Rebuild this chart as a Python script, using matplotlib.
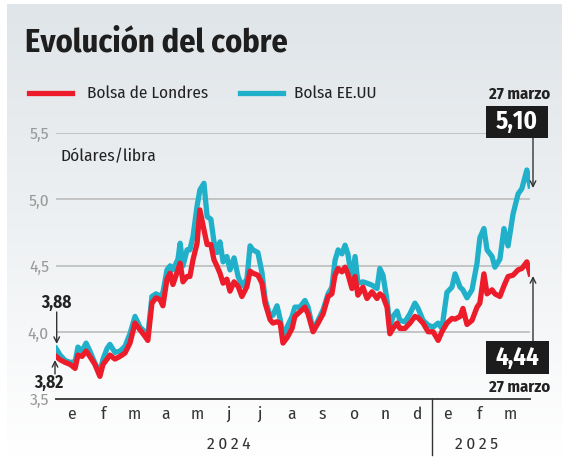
import numpy as np
import matplotlib
matplotlib.use('Agg')
import matplotlib.pyplot as plt
from matplotlib.patches import Rectangle
from matplotlib.colors import LinearSegmentedColormap

plt.rcParams['font.family'] = ['Fira Sans Condensed', 'DejaVu Sans']

# meses desde 1 de enero de 2024 (posicion de cada lectura)
mes = [0.00, 0.13, 0.29, 0.45, 0.61, 0.70, 0.83, 0.96, 1.08, 1.24,
       1.40, 1.50, 1.63, 1.72, 1.88, 2.04, 2.20, 2.36, 2.52, 2.68,
       2.81, 2.93, 3.06, 3.19, 3.32, 3.41, 3.54, 3.64, 3.73, 3.89,
       3.96, 4.05, 4.18, 4.27, 4.37, 4.50, 4.59, 4.72, 4.82, 4.94,
       5.04, 5.14, 5.23, 5.33, 5.45, 5.55, 5.68, 5.81, 5.93, 6.09,
       6.19, 6.28, 6.44, 6.57, 6.67, 6.83, 6.92, 7.05, 7.15, 7.24,
       7.37, 7.53, 7.62, 7.78, 7.94, 8.04, 8.20, 8.36, 8.52, 8.68,
       8.80, 8.90, 9.00, 9.12, 9.22, 9.31, 9.44, 9.54, 9.63, 9.79,
       9.92, 10.08, 10.24, 10.33, 10.43, 10.56, 10.65, 10.75, 10.88, 10.97,
       11.13, 11.29, 11.45, 11.55, 11.71, 11.87, 12.03, 12.19, 12.31, 12.47,
       12.63, 12.73, 12.89, 12.98, 13.11, 13.27, 13.43, 13.52, 13.65, 13.75,
       13.91, 14.00, 14.16, 14.29, 14.42, 14.58, 14.74, 14.86, 15.02, 15.12]

# Bolsa EE.UU (dolares/libra)
eeuu = [3.88, 3.83, 3.79, 3.775, 3.78, 3.89, 3.86, 3.92, 3.86, 3.77,
        3.70, 3.80, 3.88, 3.91, 3.85, 3.86, 3.895, 3.99, 4.12, 4.04,
        4.01, 3.98, 4.27, 4.29, 4.27, 4.30, 4.47, 4.50, 4.47, 4.55,
        4.67, 4.50, 4.62, 4.62, 4.72, 4.95, 5.07, 5.12, 4.87, 4.85,
        4.68, 4.60, 4.68, 4.53, 4.57, 4.47, 4.56, 4.42, 4.35, 4.40,
        4.65, 4.62, 4.60, 4.45, 4.25, 4.12, 4.13, 4.20, 4.10, 3.98,
        4.04, 4.12, 4.19, 4.19, 4.24, 4.19, 4.02, 4.09, 4.17, 4.29,
        4.34, 4.54, 4.62, 4.59, 4.655, 4.59, 4.39, 4.57, 4.37, 4.38,
        4.37, 4.355, 4.33, 4.48, 4.43, 4.24, 4.04, 4.12, 4.16, 4.09,
        4.08, 4.14, 4.22, 4.18, 4.09, 4.055, 4.04, 4.07, 4.03, 4.30,
        4.34, 4.44, 4.34, 4.32, 4.26, 4.32, 4.52, 4.71, 4.78, 4.62,
        4.57, 4.49, 4.55, 4.78, 4.65, 4.89, 5.04, 5.08, 5.22, 5.10]

# Bolsa de Londres (dolares/libra)
londres = [3.82, 3.795, 3.775, 3.76, 3.73, 3.83, 3.82, 3.86, 3.82, 3.76,
           3.67, 3.76, 3.80, 3.83, 3.80, 3.82, 3.845, 3.92, 4.07, 4.02,
           3.98, 3.94, 4.22, 4.26, 4.245, 4.20, 4.40, 4.445, 4.36, 4.47,
           4.52, 4.38, 4.42, 4.42, 4.545, 4.67, 4.92, 4.77, 4.66, 4.66,
           4.545, 4.495, 4.445, 4.37, 4.40, 4.31, 4.38, 4.345, 4.27, 4.345,
           4.46, 4.445, 4.43, 4.37, 4.22, 4.095, 4.07, 4.08, 4.07, 3.92,
           3.96, 4.03, 4.12, 4.155, 4.19, 4.14, 4.005, 4.07, 4.14, 4.27,
           4.29, 4.43, 4.48, 4.455, 4.49, 4.44, 4.33, 4.42, 4.28, 4.34,
           4.255, 4.305, 4.255, 4.29, 4.27, 4.19, 3.99, 4.03, 4.07, 4.03,
           4.03, 4.07, 4.12, 4.11, 4.07, 4.005, 4.005, 3.94, 4.005, 4.07,
           4.105, 4.10, 4.12, 4.18, 4.06, 4.09, 4.19, 4.22, 4.44, 4.29,
           4.32, 4.29, 4.27, 4.35, 4.42, 4.43, 4.47, 4.48, 4.53, 4.44]

meses = ['e', 'f', 'm', 'a', 'm', 'j', 'j', 'a', 's', 'o', 'n', 'd', 'e', 'f', 'm']
y_ticks = [3.5, 4.0, 4.5, 5.0, 5.5]
y_labels = ['3,5', '4,0', '4,5', '5,0', '5,5']

ROJO = '#ec1c2b'
CIAN = '#21b0c9'
W, H = 562, 457


def px(x, y):
    # pixel (desde arriba a la izquierda) -> fraccion de figura
    return x / W, 1 - y / H


fig = plt.figure(figsize=(W / 100, H / 100), dpi=100)

# fondo degradado
fondo = fig.add_axes([0, 0, 1, 1], zorder=0)
cmap = LinearSegmentedColormap.from_list('fondo', ['#e0e5e9', '#eef1f3', '#ffffff'])
grad = np.linspace(0, 1, 256).reshape(-1, 1)
fondo.imshow(grad, aspect='auto', cmap=cmap, extent=[7, W, 457, 4])
fondo.set_xlim(0, W)
fondo.set_ylim(H, 0)
fondo.axis('off')

# area del grafico
x0, x1 = px(56, 399)
x2, y2 = px(530, 132.7)
ax = fig.add_axes([x0, x1, x2 - x0, y2 - x1], zorder=1)
ax.patch.set_alpha(0)
ax.set_xlim(0, 15.12)
ax.set_ylim(3.5, 5.5)

for v in y_ticks[1:]:
    ax.axhline(v, color='#bcbcbc', lw=1.2, zorder=1)
ax.axhline(3.5, color='#444444', lw=1.4, zorder=1, clip_on=False)

ax.plot(mes, eeuu, color=CIAN, lw=3.8, solid_joinstyle='round', zorder=3)
ax.plot(mes, londres, color=ROJO, lw=3.8, solid_joinstyle='round', zorder=4)

for s in ax.spines.values():
    s.set_visible(False)
ax.set_xticks([])
ax.set_yticks(y_ticks)
ax.set_yticklabels(y_labels, color='#9a9a9a', fontsize=12.5)
ax.tick_params(axis='y', length=0, pad=5)

# meses y años
for i, m in enumerate(meses):
    ax.text(i + 0.5, 3.5 - 15 / 133.2, m, ha='center', va='center',
            fontsize=12.5, color='#333333', clip_on=False)
ax.plot([12, 12], [3.5, 3.5 - 56 / 133.2], color='#333333', lw=1, clip_on=False)
ax.text(5.5, 3.5 - 45 / 133.2, '2\u20090\u20092\u20094', ha='center', va='center',
        fontsize=12.5, color='#333333', clip_on=False)
ax.text(13.4, 3.5 - 45 / 133.2, '2\u20090\u20092\u20095', ha='center', va='center',
        fontsize=12.5, color='#333333', clip_on=False)

# titulo, leyenda, unidades
fig.text(*px(25, 52), 'Evolución del cobre', fontsize=23.3, fontweight='bold',
         color='#1e1e1e', va='baseline', ha='left')
fig.lines.append(plt.Line2D([29 / W, 72 / W], [1 - 93 / H] * 2, color=ROJO, lw=3.8,
                            transform=fig.transFigure, figure=fig))
fig.text(*px(87, 93), 'Bolsa de Londres', fontsize=12.3, color='#222222', va='center')
fig.lines.append(plt.Line2D([240 / W, 283 / W], [1 - 93 / H] * 2, color=CIAN, lw=3.8,
                            transform=fig.transFigure, figure=fig))
fig.text(*px(294, 93), 'Bolsa EE.UU', fontsize=12.3, color='#222222', va='center')
fig.text(*px(61, 157), 'Dólares/libra', fontsize=12.5, color='#222222', va='center')

# valores iniciales
fig.text(*px(56.5, 303), '3,88', fontsize=12.5, fontweight='bold', color='#222222',
         ha='center', va='center')
ax.annotate('', xy=px(56.7, 344), xytext=px(56.7, 312), xycoords='figure fraction',
            textcoords='figure fraction',
            arrowprops=dict(arrowstyle='->', color='#333333', lw=1, shrinkA=0, shrinkB=0))
fig.text(*px(49, 383), '3,82', fontsize=12.5, fontweight='bold', color='#222222',
         ha='center', va='center')
ax.annotate('', xy=px(55, 360), xytext=px(55, 374), xycoords='figure fraction',
            textcoords='figure fraction',
            arrowprops=dict(arrowstyle='->', color='#333333', lw=1, shrinkA=0, shrinkB=0))

# valores finales
fig.text(*px(520, 94), '27 marzo', fontsize=12, fontweight='bold', color='#222222',
         ha='center', va='center')
fig.patches.append(Rectangle(px(486, 138), 62 / W, 32 / H, transform=fig.transFigure,
                             facecolor='#1c1c1c', edgecolor='none', zorder=5))
fig.text(*px(517, 122), '5,10', fontsize=18, fontweight='bold', color='white',
         ha='center', va='center', zorder=6)
ax.annotate('', xy=px(533, 188), xytext=px(533, 138), xycoords='figure fraction',
            textcoords='figure fraction',
            arrowprops=dict(arrowstyle='->', color='#333333', lw=1, shrinkA=0, shrinkB=0))

fig.patches.append(Rectangle(px(486, 374), 63 / W, 33 / H, transform=fig.transFigure,
                             facecolor='#1c1c1c', edgecolor='none', zorder=5))
fig.text(*px(517.5, 357.5), '4,44', fontsize=18, fontweight='bold', color='white',
         ha='center', va='center', zorder=6)
ax.annotate('', xy=px(533, 276), xytext=px(533, 341), xycoords='figure fraction',
            textcoords='figure fraction',
            arrowprops=dict(arrowstyle='->', color='#333333', lw=1, shrinkA=0, shrinkB=0))
fig.text(*px(520, 387), '27 marzo', fontsize=12, fontweight='bold', color='#222222',
         ha='center', va='center')

fig.savefig('out.png', dpi=100)
